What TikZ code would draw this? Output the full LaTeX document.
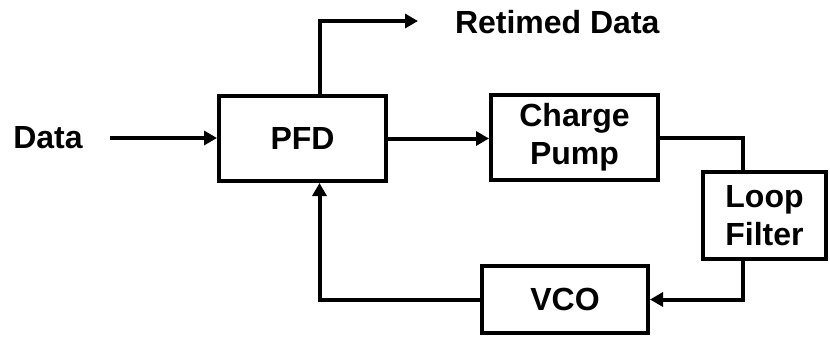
\documentclass[tikz,border=0pt]{standalone}
\usepackage{fontspec}
\setmainfont{Liberation Sans}
\usetikzlibrary{arrows.meta,positioning}

\begin{document}
\begin{tikzpicture}[
    x=1pt, y=-1pt,
    >={Triangle[length=13pt,width=14pt]},
    every path/.style={line width=4pt},
    block/.style={
        rectangle,
        draw=black,
        line width=4pt,
        minimum width=#1,
        font=\fontsize{32}{38}\selectfont\bfseries,
        align=center,
        inner sep=0pt
    },
    label/.style={
        font=\fontsize{32}{38}\selectfont\bfseries,
        inner sep=2pt
    }
]
\useasboundingbox (0,0) rectangle (830,338);

% Input and output labels
\node[label] (data) at (48,138) {Data};
\node[label, anchor=west] (retimed) at (451,22) {Retimed Data};

% Loop blocks
\node[block=167pt, minimum height=85pt] (pfd) at (302.5,138.5) {PFD};
\node[block=167pt, minimum height=85pt] (cp)  at (574.5,137.5) {Charge\\Pump};
\node[block=123pt, minimum height=87pt] (lf)  at (764.5,215.5) {Loop\\Filter};
\node[block=166pt, minimum height=67pt] (vco) at (565,299.5) {VCO};

% Free ends of the two open arrows
\coordinate (datain) at (110,138);
\coordinate (rtout)  at (418,21);

% Forward path
\draw[->] (datain) -- (pfd.west |- datain);
\draw[->] ([xshift=17pt]pfd.north) |- (rtout);
\draw[->] (pfd.east) -- (pfd.east -| cp.west);
\draw (cp.east) -| ([xshift=-22pt]lf.north);

% Feedback path
\draw[->] ([xshift=-22pt]lf.south) |- (vco.east);
\draw[->] (vco.west) -| ([xshift=17pt]pfd.south);

\end{tikzpicture}
\end{document}
